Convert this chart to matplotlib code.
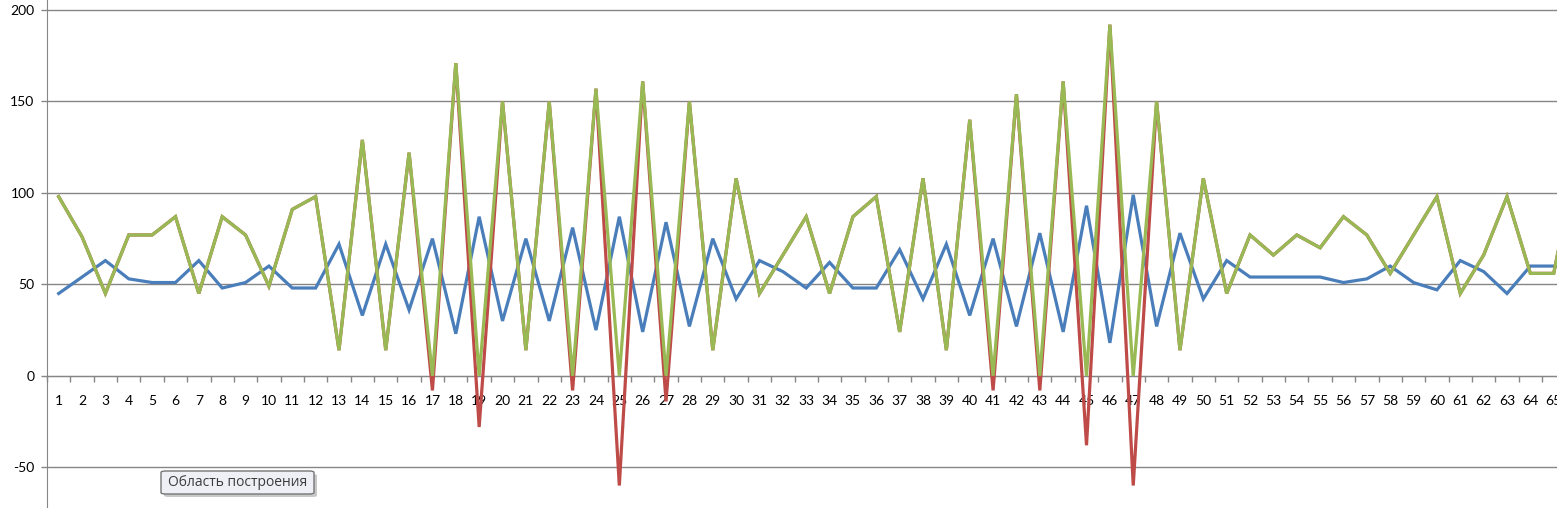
#!/usr/bin/env python3
"""Excel-style line chart with three series and a plot-area tooltip."""

import matplotlib

matplotlib.use("Agg")
import matplotlib.pyplot as plt
from matplotlib.patches import FancyBboxPatch
from matplotlib.ticker import FixedLocator, MultipleLocator

CATEGORIES = list(range(1, 67))

BLUE = [
    45, 54, 63, 53, 51, 51, 63, 48, 51, 60,
    48, 48, 72, 33, 72, 36, 75, 23, 87, 30,
    75, 30, 81, 25, 87, 24, 84, 27, 75, 42,
    63, 57, 48, 62, 48, 48, 69, 42, 72, 33,
    75, 27, 78, 24, 93, 18, 99, 27, 78, 42,
    63, 54, 54, 54, 54, 51, 53, 60, 51, 47,
    63, 57, 45, 60, 60, 60,
]
RED = [
    98, 76, 45, 77, 77, 87, 45, 87, 77, 49,
    91, 98, 14, 129, 14, 122, -8, 171, -28, 150,
    14, 150, -8, 157, -60, 161, -14, 150, 14, 108,
    45, 66, 87, 45, 87, 98, 24, 108, 14, 140,
    -8, 154, -8, 161, -38, 192, -60, 150, 14, 108,
    45, 77, 66, 77, 70, 87, 77, 56, 77, 98,
    45, 66, 98, 56, 56, 120,
]
GREEN = [
    98, 76, 45, 77, 77, 87, 45, 87, 77, 49,
    91, 98, 14, 129, 14, 122, 0, 171, 0, 150,
    14, 150, 0, 157, 0, 161, 0, 150, 14, 108,
    45, 66, 87, 45, 87, 98, 24, 108, 14, 140,
    0, 154, 0, 161, 0, 192, 0, 150, 14, 108,
    45, 77, 66, 77, 70, 87, 77, 56, 77, 98,
    45, 66, 98, 56, 56, 120,
]
Y_TICKS = [-50, 0, 50, 100, 150, 200]

AXIS_GREY = "#868686"
COLORS = {"blue": "#4A7EBB", "red": "#BE4B48", "green": "#98B954"}

plt.rcParams["font.family"] = ["Lato", "DejaVu Sans"]
plt.rcParams["axes.unicode_minus"] = False

W, H = 1557, 508
fig = plt.figure(figsize=(W / 100, H / 100), dpi=100)
fig.patch.set_facecolor("white")

left_px = 47
step_px = 23.36
ax = fig.add_axes([left_px / W, 0, 1 - left_px / W, 1])
ax.set_xlim(0.5, 0.5 + (W - left_px) / step_px)
ax.set_ylim(-72.3, 205.5)

for ys in Y_TICKS:
    ax.axhline(ys, color=AXIS_GREY, linewidth=1.0, zorder=1)

ax.plot(CATEGORIES, BLUE, color=COLORS["blue"], linewidth=2.3, zorder=3, solid_joinstyle="miter")
ax.plot(CATEGORIES, RED, color=COLORS["red"], linewidth=2.3, zorder=4, solid_joinstyle="miter")
ax.plot(CATEGORIES, GREEN, color=COLORS["green"], linewidth=2.3, zorder=5, solid_joinstyle="miter")

for side in ("top", "right"):
    ax.spines[side].set_visible(False)
ax.spines["left"].set_color(AXIS_GREY)
ax.spines["bottom"].set_color(AXIS_GREY)
ax.spines["bottom"].set_position(("data", 0))

ax.set_yticks(Y_TICKS)
ax.set_yticklabels([str(v) for v in Y_TICKS])
ax.tick_params(axis="y", length=4, width=1, color=AXIS_GREY, pad=5, labelsize=10,
               labelcolor="#000000")

ax.xaxis.set_major_locator(FixedLocator(CATEGORIES))
ax.set_xticklabels([str(c) for c in CATEGORIES])
ax.xaxis.set_minor_locator(MultipleLocator(1, offset=0.5))
ax.tick_params(axis="x", which="major", length=0, pad=13.5, labelsize=10, labelcolor="#000000")
ax.tick_params(axis="x", which="minor", length=4, width=1, color=AXIS_GREY)

# tooltip "Область построения"
bx0, bx1, by0, by1 = 161, 314, 471, 494
shadow = FancyBboxPatch(
    ((bx0 + 3) / W, (H - by1 - 3) / H), (bx1 - bx0) / W, (by1 - by0) / H,
    boxstyle="round,pad=0,rounding_size=0.003", transform=fig.transFigure,
    facecolor="#c8c8c8", edgecolor="none", zorder=9,
)
box = FancyBboxPatch(
    (bx0 / W, (H - by1) / H), (bx1 - bx0) / W, (by1 - by0) / H,
    boxstyle="round,pad=0,rounding_size=0.003", transform=fig.transFigure,
    facecolor="#eef0f6", edgecolor="#767676", linewidth=1.0, zorder=10,
)
fig.patches.extend([shadow, box])
fig.text((bx0 + bx1) / 2 / W, (H - (by0 + by1) / 2) / H, "Область построения",
         ha="center", va="center", fontsize=10, color="#3c3c3c",
         family=["Open Sans", "DejaVu Sans"], zorder=11)

fig.savefig("out.png", dpi=100)
